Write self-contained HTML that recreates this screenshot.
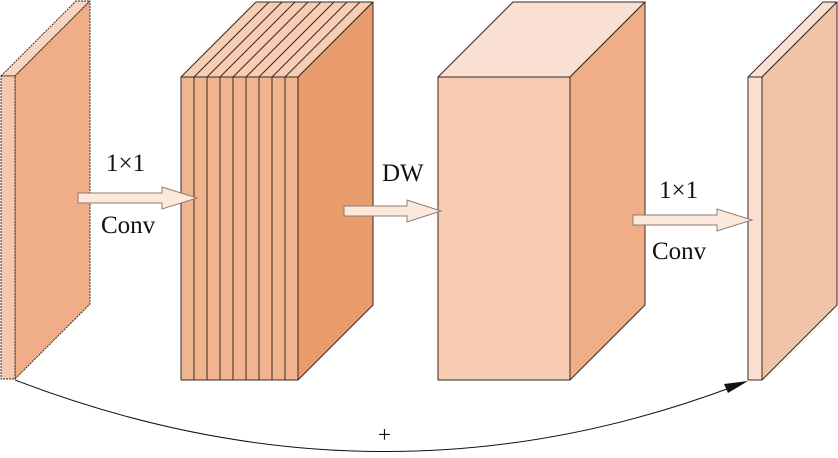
<!DOCTYPE html>
<html><head><style>body{margin:0;background:#fff}svg{display:block}text{font-family:"Liberation Serif",serif;fill:#111}</style></head><body>
<svg width="838" height="458" viewBox="0 0 838 458" xmlns="http://www.w3.org/2000/svg">
<g stroke="#3a2a22" stroke-width="1" stroke-linejoin="round">
<polygon points="1,76 76,1 90,1 15,76" fill="#f8d5c0" stroke-dasharray="2,1"/>
<polygon points="15,76 90,1 90,304 15,379" fill="#efae88" stroke-dasharray="2,1"/>
<rect x="1" y="76" width="14" height="303" fill="#f5c8ae" stroke-dasharray="2,1"/>
<polygon points="181,77 256,2 373,2 298,77" fill="#f7cdb3"/>
<g fill="none">
<line x1="194" y1="77" x2="269" y2="2"/><line x1="207" y1="77" x2="282" y2="2"/><line x1="220" y1="77" x2="295" y2="2"/><line x1="233" y1="77" x2="308" y2="2"/><line x1="246" y1="77" x2="321" y2="2"/><line x1="259" y1="77" x2="334" y2="2"/><line x1="272" y1="77" x2="347" y2="2"/><line x1="285" y1="77" x2="360" y2="2"/>
</g>
<polygon points="298,77 373,2 373,305 298,380" fill="#e99c6c"/>
<rect x="181" y="77" width="117" height="303" fill="#f0b48e"/>
<g fill="none">
<line x1="194" y1="77" x2="194" y2="380"/><line x1="207" y1="77" x2="207" y2="380"/><line x1="220" y1="77" x2="220" y2="380"/><line x1="233" y1="77" x2="233" y2="380"/><line x1="246" y1="77" x2="246" y2="380"/><line x1="259" y1="77" x2="259" y2="380"/><line x1="272" y1="77" x2="272" y2="380"/><line x1="285" y1="77" x2="285" y2="380"/>
</g>
<polygon points="438,77 513,2 645,2 570,77" fill="#fae0d3"/>
<polygon points="570,77 645,2 645,305 570,380" fill="#f0ae88"/>
<rect x="438" y="77" width="132" height="303" fill="#f6cbb2"/>
<polygon points="748,77 823,2 837,2 762,77" fill="#fae0d3"/>
<polygon points="762,77 837,2 837,305 762,380" fill="#f0c4a6"/>
<rect x="748" y="77" width="14" height="303" fill="#fae0d3"/>
</g>
<g fill="#fde9dc" stroke="#8b7b70" stroke-width="1">
<polygon points="78,193 162,193 162,187 197,198 162,209 162,203 78,203"/>
<polygon points="344,206 407,206 407,200 441,211 407,222 407,216 344,216"/>
<polygon points="633,215 717,215 717,209 752,220 717,231 717,225 633,225"/>
</g>
<path d="M15,380 Q380,520 735,386" fill="none" stroke="#111" stroke-width="1"/>
<polygon points="748,381 728,393 724,384" fill="#111"/>
<text x="106" y="171" font-size="25">1×1</text>
<text x="101" y="233" font-size="25">Conv</text>
<text x="382" y="181" font-size="25">DW</text>
<text x="659" y="198" font-size="25">1×1</text>
<text x="652" y="259" font-size="25">Conv</text>
<text x="378" y="442" font-size="23">+</text>
</svg>
</body></html>
